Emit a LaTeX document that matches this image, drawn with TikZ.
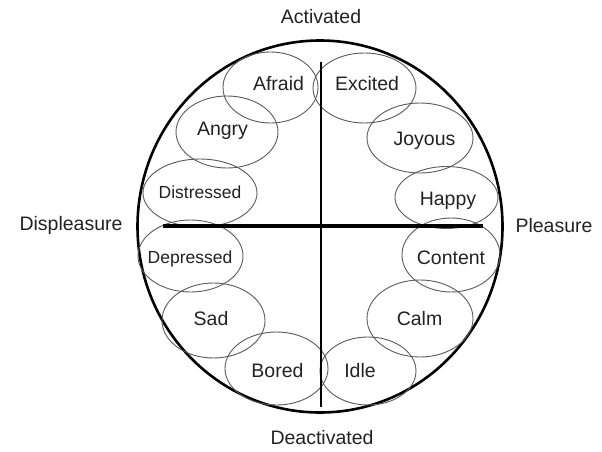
\documentclass[tikz,border=0pt]{standalone}
\usepackage{fontspec}
\setmainfont{Liberation Sans}
\usetikzlibrary{shapes.geometric}
\definecolor{ring}{HTML}{5A5A5A}
\definecolor{ink}{HTML}{222222}
\begin{document}
\begin{tikzpicture}[x=1pt,y=-1pt,
    emo/.style={ellipse,draw=ring,line width=0.9pt,inner sep=0pt},
    word/.style={anchor=base,text=ink,inner sep=0pt,font=\fontsize{19.5}{22}\selectfont},
    small/.style={word,font=\fontsize{17.5}{20}\selectfont}]
    \useasboundingbox (0,0) rectangle (602,452);

    % outer boundary
    \node[ellipse,draw,line width=2.6pt,minimum width=365pt,minimum height=372pt,inner sep=0pt] (outer) at (320,226.5) {};

    % emotion ellipses
    \node[emo,minimum width=95pt,minimum height=71pt] (afraid) at (270.5,87.5) {};
    \node[emo,minimum width=103pt,minimum height=70pt] (excited) at (364.5,88) {};
    \node[emo,minimum width=102pt,minimum height=72pt] (angry) at (227,132) {};
    \node[emo,minimum width=106pt,minimum height=70pt] (joyous) at (420,138) {};
    \node[emo,minimum width=114pt,minimum height=68pt] (distressed) at (200,193) {};
    \node[emo,minimum width=103pt,minimum height=62pt] (happy) at (446.5,197.5) {};
    \node[emo,minimum width=105pt,minimum height=72pt] (depressed) at (190.5,256) {};
    \node[emo,minimum width=98pt,minimum height=74pt] (content) at (451,255) {};
    \node[emo,minimum width=103pt,minimum height=75pt] (sad) at (213.5,320.5) {};
    \node[emo,minimum width=106pt,minimum height=77pt] (calm) at (420,318.5) {};
    \node[emo,minimum width=103pt,minimum height=73pt] (bored) at (276.5,368.5) {};
    \node[emo,minimum width=96pt,minimum height=68pt] (idle) at (368,371) {};

    % axes
    \coordinate (top) at (320.5,62);
    \coordinate (bottom) at (320.5,407);
    \coordinate (left) at (163,226);
    \coordinate (right) at (483,226);
    \draw[line width=2pt] (top)--(bottom);
    \draw[line width=3.2pt] (left)--(right);

    % emotion words
    \node[word] (tafraid) at (278.5,90) {Afraid};
    \node[word] (texcited) at (367,90) {Excited};
    \node[word] (tangry) at (222.5,135) {Angry};
    \node[word] (tjoyous) at (424.5,145) {Joyous};
    \node[small] (tdistressed) at (200,198) {Distressed};
    \node[word] (thappy) at (448,205) {Happy};
    \node[small] (tdepressed) at (190,263) {Depressed};
    \node[word] (tcontent) at (451,264) {Content};
    \node[word] (tsad) at (211,325) {Sad};
    \node[word] (tcalm) at (419.5,325) {Calm};
    \node[word] (tbored) at (277.5,377) {Bored};
    \node[word] (tidle) at (360,377) {Idle};

    % axis labels
    \node[word] (activated) at (321,24) {Activated};
    \node[word] (deactivated) at (322,444) {Deactivated};
    \node[word] (displeasure) at (71,230) {Displeasure};
    \node[word] (pleasure) at (554,232) {Pleasure};
\end{tikzpicture}
\end{document}
